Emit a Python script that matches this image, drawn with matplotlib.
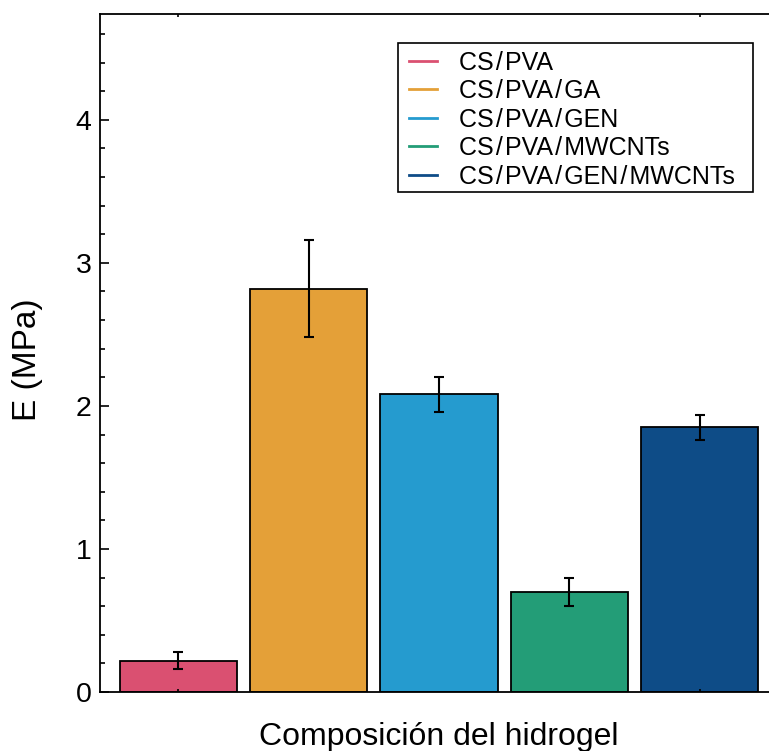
import matplotlib
matplotlib.use("Agg")
import matplotlib.pyplot as plt
from matplotlib.ticker import MultipleLocator
from matplotlib.lines import Line2D
from matplotlib.patches import Rectangle
from matplotlib.transforms import IdentityTransform

plt.rcParams['font.family'] = ['Liberation Sans', 'DejaVu Sans']

SEP = "\u200a/\u200a"
categories = ["CS/PVA", "CS/PVA/GA", "CS/PVA/GEN",
              "CS/PVA/MWCNTs", "CS/PVA/GEN/MWCNTs"]
labels = [c.replace("/", SEP) for c in categories]
modulus = [0.22, 2.82, 2.08, 0.70, 1.85]
modulus_err = [0.06, 0.34, 0.12, 0.10, 0.085]
colors = ["#DA5071", "#E4A038", "#259BCF", "#239D77", "#0E4C87"]

fig = plt.figure(figsize=(7.69, 7.51), dpi=100)
ax = fig.add_axes([100 / 769, 59 / 751, 678 / 769, 678 / 751])

x = list(range(len(categories)))
ax.bar(x, modulus, width=0.9, color=colors, edgecolor="black", linewidth=1.3,
       yerr=modulus_err, capsize=3.5,
       error_kw=dict(ecolor="black", elinewidth=1.5, capthick=1.5))

ax.set_xlim(-0.6, 4.6)
ax.set_ylim(0, 1.5 * (modulus[1] + modulus_err[1]))

ax.set_xticks([0, 4])
ax.set_xticklabels([])
ax.tick_params(axis="x", which="both", direction="in", top=True, bottom=True,
               length=2, width=1.2)
ax.yaxis.set_major_locator(MultipleLocator(1))
ax.yaxis.set_minor_locator(MultipleLocator(0.2))
ax.tick_params(axis="y", which="major", direction="in", length=6.5, width=1.2,
               labelsize=20.5, pad=6)
ax.tick_params(axis="y", which="minor", direction="in", length=3.5, width=1.2)
for s in ax.spines.values():
    s.set_linewidth(1.3)

ax.set_ylabel("E (MPa)", fontsize=24)
ax.yaxis.set_label_coords(-0.084, 0.49)
ax.set_xlabel("Composición del hidrogel", fontsize=23, labelpad=18)

handles = [Line2D([0], [0], color=c, lw=2) for c in colors]
leg = ax.legend(handles, labels, loc="upper right",
                bbox_to_anchor=(0.9476, 0.957), borderaxespad=0,
                fontsize=18, frameon=False,
                handlelength=1.1, handletextpad=0.9, labelspacing=0.18,
                borderpad=0.3)

# legend frame with wider side margins than the vertical padding
fig.canvas.draw()
bb = leg.get_window_extent()
frame = Rectangle((bb.x0 - 4, bb.y0 + 4), bb.width + 14.5, bb.height - 4,
                  transform=IdentityTransform(), fill=False,
                  edgecolor="black", linewidth=1.2, zorder=5)
fig.add_artist(frame)

fig.savefig("out.png", dpi=100)
